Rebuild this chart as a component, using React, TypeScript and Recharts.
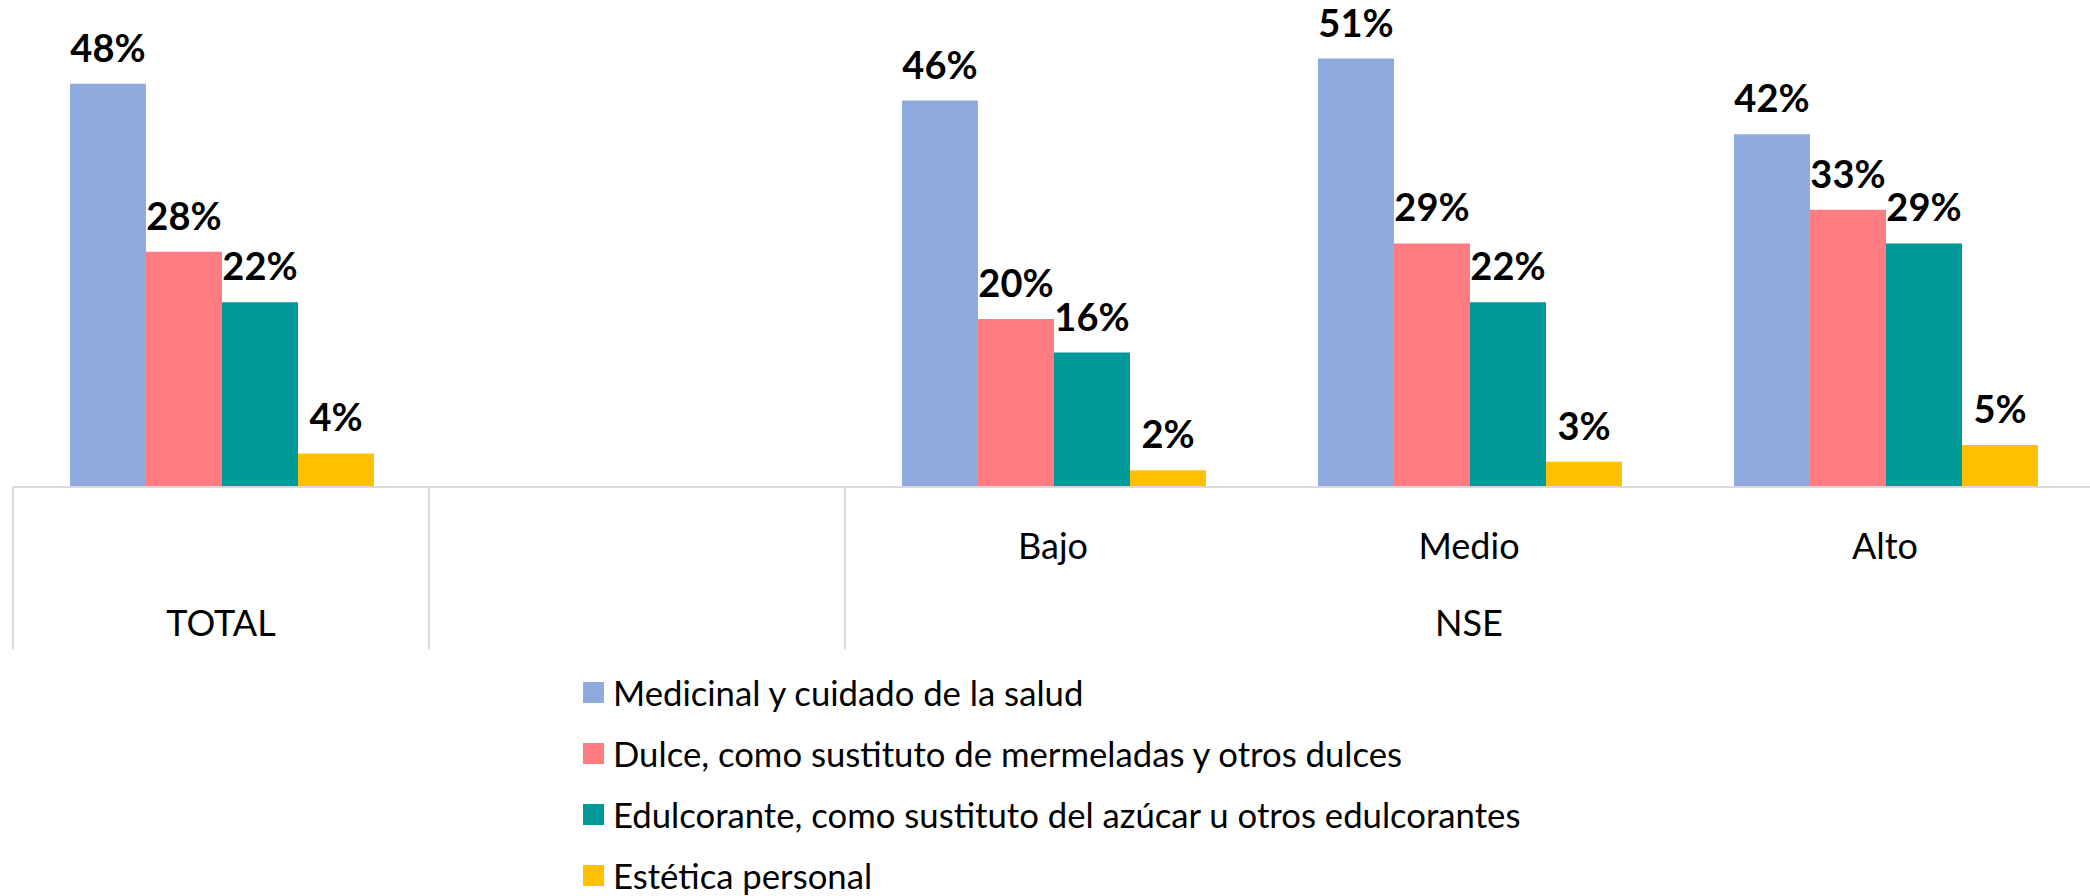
import React from 'react';
import { BarChart, Bar, XAxis, YAxis, Legend, LabelList } from 'recharts';

const categories = ['TOTAL', '', 'Bajo', 'Medio', 'Alto'];
const subLabels = ['', '', 'Bajo', 'Medio', 'Alto'];
const groups = ['TOTAL', '', 'NSE', 'NSE', 'NSE'];
const medicinal = [48, null, 46, 51, 42];
const dulce = [28, null, 20, 29, 33];
const edulcorante = [22, null, 16, 22, 29];
const estetica = [4, null, 2, 3, 5];

const series = [
  { key: 'medicinal', name: 'Medicinal y cuidado de la salud', color: '#8FAADC' },
  { key: 'dulce', name: 'Dulce, como sustituto de mermeladas y otros dulces', color: '#FF7C80' },
  { key: 'edulcorante', name: 'Edulcorante, como sustituto del azúcar u otros edulcorantes', color: '#009999' },
  { key: 'estetica', name: 'Estética personal', color: '#FFC000' },
];

const data = categories.map((c, i) => ({
  cat: c,
  medicinal: medicinal[i],
  dulce: dulce[i],
  edulcorante: edulcorante[i],
  estetica: estetica[i],
}));

const FONT = 'Lato, "Noto Sans", sans-serif';
const W = 2100;
const H = 896;
const LEFT = 13;
const RIGHT = 7;
const BAND = (W - LEFT - RIGHT) / categories.length;
const AXIS_H = 162;
const GRID = '#D9D9D9';

const CatTick = (props: any) => {
  const { x, y, index } = props;
  const left = x - BAND / 2;
  const g = groups[index];
  const startsGroup = index === 0 || groups[index - 1] !== g;
  let span = 0;
  if (startsGroup) {
    while (index + span < groups.length && groups[index + span] === g) span++;
  }
  const isLast = index === categories.length - 1;
  return (
    <g>
      {startsGroup && (
        <line x1={left} x2={left} y1={y} y2={y + AXIS_H} stroke={GRID} strokeWidth={2} />
      )}
      {isLast && (
        <line x1={left + BAND} x2={left + BAND} y1={y} y2={y + AXIS_H} stroke={GRID} strokeWidth={2} />
      )}
      <text x={x} y={y + 72} textAnchor="middle" fontSize={36} fontFamily={FONT} fill="#000">
        {subLabels[index]}
      </text>
      {startsGroup && g && (
        <text x={left + (span * BAND) / 2} y={y + 149} textAnchor="middle" fontSize={36} fontFamily={FONT} fill="#000">
          {g}
        </text>
      )}
    </g>
  );
};

const LegendContent = () => (
  <div style={{ fontFamily: FONT, fontSize: 34.7, color: '#000' }}>
    {series.map((s) => (
      <div key={s.key} style={{ display: 'flex', alignItems: 'center', height: 61 }}>
        <span style={{ width: 21, height: 21, background: s.color, marginRight: 9, display: 'inline-block' }} />
        <span>{s.name}</span>
      </div>
    ))}
  </div>
);

export default function App() {
  return (
    <div style={{ position: 'fixed', left: 0, top: 0, width: 2090, height: 896, overflow: 'hidden', background: '#fff' }}>
      <BarChart
        width={W}
        height={H}
        data={data}
        margin={{ top: 25, right: RIGHT, left: LEFT, bottom: H - 487 - AXIS_H }}
        barCategoryGap="13.7%"
        barGap={0}
      >
        <XAxis
          dataKey="cat"
          height={AXIS_H}
          axisLine={{ stroke: GRID, strokeWidth: 2 }}
          tickLine={false}
          tickSize={0}
          tickMargin={0}
          interval={0}
          tick={<CatTick />}
        />
        <YAxis hide domain={[0, 55]} />
        <Legend
          layout="vertical"
          align="center"
          verticalAlign="middle"
          wrapperStyle={{ left: 583, top: 662, width: 1300, height: 244 }}
          content={<LegendContent />}
        />
        {series.map((s) => (
          <Bar key={s.key} dataKey={s.key} name={s.name} fill={s.color} isAnimationActive={false}>
            <LabelList
              dataKey={s.key}
              position="top"
              offset={22}
              formatter={(v: any) => (v == null ? '' : `${v}%`)}
              style={{ fontFamily: FONT, fontSize: 38, fontWeight: 700, fill: '#000' }}
            />
          </Bar>
        ))}
      </BarChart>
    </div>
  );
}
